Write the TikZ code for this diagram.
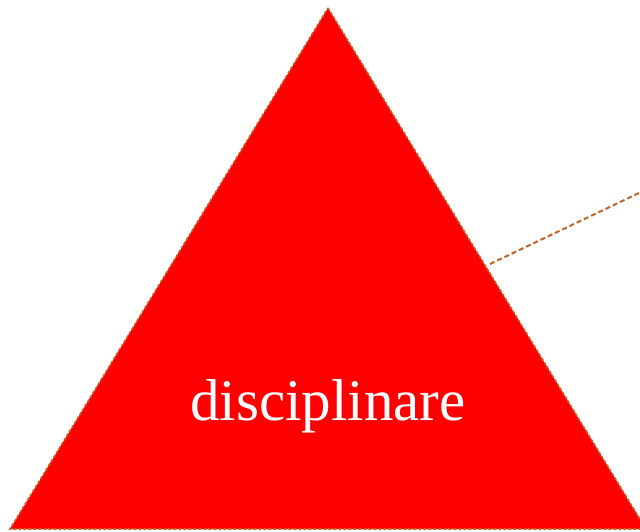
\documentclass[tikz,border=0pt]{standalone}
\usepackage{fontspec}
\setmainfont{Liberation Serif}
\definecolor{edgebrown}{RGB}{192,98,40}
\definecolor{trired}{RGB}{255,0,0}
\tikzset{
  tri/.style={fill=trired, draw=edgebrown, line width=1.6pt, dash pattern=on 3pt off 2pt},
  leader/.style={draw=edgebrown, line width=2pt, dash pattern=on 5pt off 3pt},
  lbl/.style={text=white, font=\fontsize{59}{68}\selectfont, anchor=base, inner sep=0pt}
}
\begin{document}
\begin{tikzpicture}[x=1pt,y=-1pt]
\useasboundingbox (0,0) rectangle (640,531);
\clip (0,0) rectangle (640,531);
\coordinate (apex) at (328,8);
\coordinate (bl) at (10,529);
\coordinate (br) at (646,529);
\draw[tri] (apex) -- (br) -- (bl) -- cycle;
\coordinate (ls) at (490,264);
\coordinate (le) at (660,183);
\draw[leader] (ls) -- (le);
\node[lbl] (t) at (328,420) {disciplinare};
\end{tikzpicture}
\end{document}
